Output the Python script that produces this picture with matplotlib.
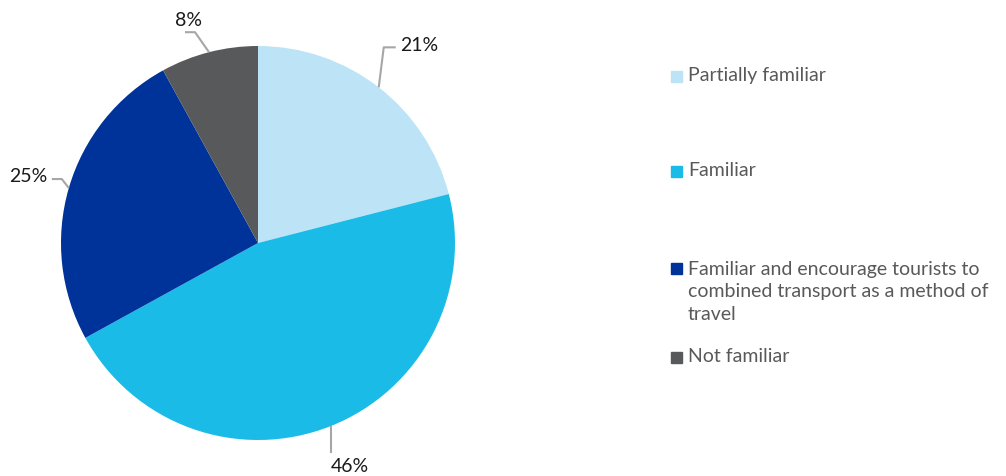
import matplotlib
matplotlib.use("Agg")
import matplotlib.pyplot as plt
from matplotlib.patches import Rectangle
import numpy as np

categories = ["Partially familiar", "Familiar",
              "Familiar and encourage tourists to\ncombined transport as a method of\ntravel",
              "Not familiar"]
values = [21, 46, 25, 8]
labels = ["21%", "46%", "25%", "8%"]
colors = ["#BDE4F6", "#1BBBE8", "#00339A", "#58595B"]

W, H = 1006, 476
fig = plt.figure(figsize=(W / 100, H / 100), dpi=100)
cx, cy, r = 258, 243, 197
ax = fig.add_axes([(cx - r) / W, (H - cy - r) / H, 2 * r / W, 2 * r / H])
wedges, _ = ax.pie(values, colors=colors, startangle=90, counterclock=False,
                   radius=1.0, wedgeprops=dict(linewidth=0))
ax.set_xlim(-1, 1)
ax.set_ylim(-1, 1)
ax.set_aspect("equal")
ax.axis("off")

FONT = "Lato"
FS = 14
lc = "#A6A6A6"
px = 1.0 / r  # data units per pixel

styles = {
    0: dict(elbow=(5, 40), end=(17, 40), ha="left"),
    1: dict(elbow=(0, -27), end=(0, -27), ha="center_below"),
    2: dict(elbow=(-7, 9), end=(-17, 9), ha="right"),
    3: dict(elbow=(-14, 20), end=(-24, 20), ha="right_up"),
}
total = sum(values)
cum = 0
for i, v in enumerate(values):
    mid = 90 - 360 * (cum + v / 2) / total
    cum += v
    th = np.deg2rad(mid)
    x0, y0 = np.cos(th), np.sin(th)
    st = styles[i]
    ex, ey = x0 + st["elbow"][0] * px, y0 + st["elbow"][1] * px
    fx, fy = x0 + st["end"][0] * px, y0 + st["end"][1] * px
    ax.plot([x0, ex, fx], [y0, ey, fy], color=lc, lw=1.5, clip_on=False,
            solid_capstyle="butt")
    kw = dict(fontsize=FS, family=FONT, color="#1a1a1a", va="center")
    if st["ha"] == "left":
        ax.text(fx + 4 * px, fy + 2 * px, labels[i], ha="left", **kw)
    elif st["ha"] == "center_below":
        ax.text(fx + 19 * px, fy - 13 * px, labels[i], ha="center", **kw)
    elif st["ha"] == "right":
        ax.text(fx - 4 * px, fy + 3 * px, labels[i], ha="right", **kw)
    else:
        ax.text(fx + 3 * px, fy + 12 * px, labels[i], ha="center", **kw)

# legend drawn manually
leg_y = [76, 171, 268, 357]
for i, (cat, col) in enumerate(zip(categories, colors)):
    y = leg_y[i]
    fig.patches.append(Rectangle((671 / W, (H - y - 6) / H), 11 / W, 11 / H,
                                 transform=fig.transFigure, color=col, figure=fig))
    nl = cat.count("\n")
    yc = y + nl * 12
    fig.text(688 / W, (H - yc) / H, cat, ha="left", va="center",
             fontsize=FS, family=FONT, color="#595959", linespacing=1.42)

fig.savefig("out.png", dpi=100)
